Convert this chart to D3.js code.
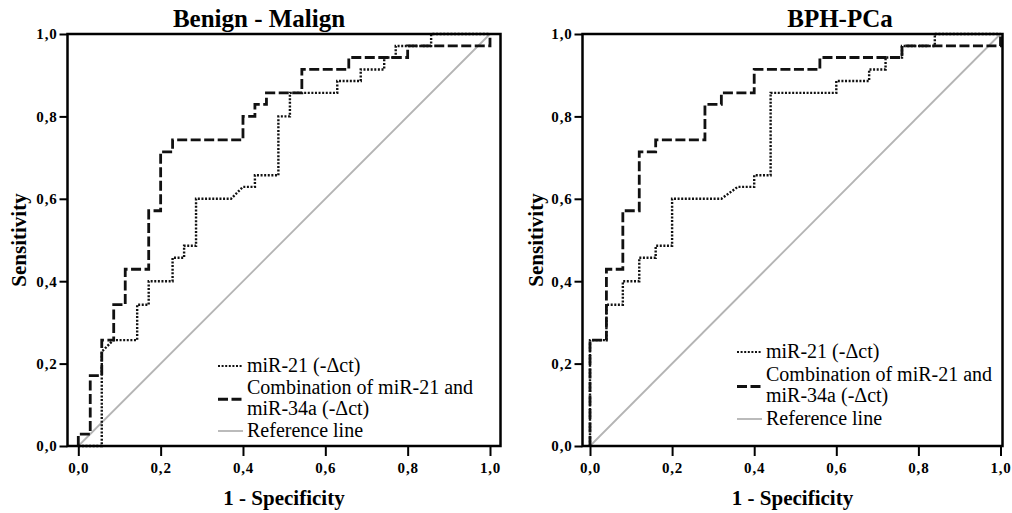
<!DOCTYPE html>
<html>
<head>
<meta charset="utf-8">
<script src="https://cdn.jsdelivr.net/npm/d3@7"></script>
<style>
  body { margin: 0; background: #fff; }
  svg { display: block; }
</style>
</head>
<body>
<div id="chart"></div>
<script>
// ROC curves (x = 1 - specificity, y = sensitivity)
const benignMir21 = [[0,0],[0.057,0],[0.057,0.229],[0.085,0.257],[0.143,0.257],[0.143,0.343],[0.171,0.343],[0.171,0.4],[0.229,0.4],[0.229,0.457],[0.257,0.457],[0.257,0.486],[0.286,0.486],[0.286,0.6],[0.371,0.6],[0.4,0.629],[0.429,0.629],[0.429,0.657],[0.486,0.657],[0.486,0.8],[0.514,0.8],[0.514,0.857],[0.629,0.857],[0.629,0.886],[0.686,0.886],[0.686,0.914],[0.743,0.914],[0.743,0.943],[0.771,0.943],[0.771,0.971],[0.857,0.971],[0.857,1],[1,1]];
const benignCombo = [[0,0],[0,0.029],[0.029,0.029],[0.029,0.171],[0.057,0.171],[0.057,0.257],[0.086,0.257],[0.086,0.343],[0.114,0.343],[0.114,0.429],[0.171,0.429],[0.171,0.571],[0.2,0.571],[0.2,0.714],[0.229,0.714],[0.229,0.743],[0.4,0.743],[0.4,0.8],[0.429,0.8],[0.429,0.829],[0.457,0.829],[0.457,0.857],[0.543,0.857],[0.543,0.914],[0.657,0.914],[0.657,0.943],[0.8,0.943],[0.8,0.971],[1,0.971],[1,1]];
const bphMir21 = [[0,0],[0,0.257],[0.04,0.257],[0.04,0.343],[0.08,0.343],[0.08,0.4],[0.12,0.4],[0.12,0.457],[0.16,0.457],[0.16,0.486],[0.2,0.486],[0.2,0.6],[0.32,0.6],[0.36,0.629],[0.4,0.629],[0.4,0.657],[0.44,0.657],[0.44,0.857],[0.6,0.857],[0.6,0.886],[0.68,0.886],[0.68,0.914],[0.72,0.914],[0.72,0.943],[0.76,0.943],[0.76,0.971],[0.84,0.971],[0.84,1],[1,1]];
const bphCombo = [[0,0],[0,0.257],[0.04,0.257],[0.04,0.429],[0.08,0.429],[0.08,0.571],[0.12,0.571],[0.12,0.714],[0.16,0.714],[0.16,0.743],[0.28,0.743],[0.28,0.829],[0.32,0.829],[0.32,0.857],[0.4,0.857],[0.4,0.914],[0.56,0.914],[0.56,0.943],[0.76,0.943],[0.76,0.971],[1,0.971],[1,1]];
const referenceLine = [[0,0],[1,1]];

const titles = ["Benign - Malign", "BPH-PCa"];
const tickValues = [0, 0.2, 0.4, 0.6, 0.8, 1.0];
const legendLabels = ["miR-21 (-\u0394ct)", "Combination of miR-21 and", "miR-34a (-\u0394ct)", "Reference line"];

const width = 1012;
const height = 513;
const serif = "'Liberation Serif', 'Times New Roman', serif";

const svg = d3.select("#chart")
  .append("svg")
  .attr("width", width)
  .attr("height", height);

// each panel: frame box, where 0 and 1 sit on x, legend spot, title center
const panels = [
  { title: titles[0], frame: [67.5, 34, 500.5, 446], x0: 78.3, x1: 490, titleX: 259,
    yLabelX: 19, legend: { x: 218, rows: [366, 388, 408.5, 431] },
    mir21: benignMir21, combo: benignCombo },
  { title: titles[1], frame: [582.5, 34, 1002.5, 446], x0: 590, x1: 1000.5, titleX: 840,
    yLabelX: 536, legend: { x: 737, rows: [352, 375, 396, 419] },
    mir21: bphMir21, combo: bphCombo }
];

const fmt = d => d3.format(".1f")(d).replace(".", ",");

panels.forEach(p => {
  const [fx0, fy0, fx1, fy1] = p.frame;
  const x = d3.scaleLinear().domain([0, 1]).range([p.x0, p.x1]);
  const y = d3.scaleLinear().domain([0, 1]).range([fy1, fy0]);
  const g = svg.append("g");

  // reference diagonal
  const line = d3.line().x(d => x(d[0])).y(d => y(d[1]));
  g.append("path")
    .attr("d", line(referenceLine))
    .attr("fill", "none")
    .attr("stroke", "#b4b4b4")
    .attr("stroke-width", 1.8);

  g.append("path")
    .attr("d", line(p.mir21))
    .attr("fill", "none")
    .attr("stroke", "#111")
    .attr("stroke-width", 2.4)
    .attr("stroke-dasharray", "2,1.6");

  g.append("path")
    .attr("d", line(p.combo))
    .attr("fill", "none")
    .attr("stroke", "#111")
    .attr("stroke-width", 2.8)
    .attr("stroke-dasharray", "10,3.5");

  // frame
  g.append("rect")
    .attr("x", fx0).attr("y", fy0)
    .attr("width", fx1 - fx0).attr("height", fy1 - fy0)
    .attr("fill", "none")
    .attr("stroke", "#000")
    .attr("stroke-width", 2.5);

  // axes
  const xAxis = g.append("g")
    .attr("transform", `translate(0,${fy1})`)
    .call(d3.axisBottom(x).tickValues(tickValues).tickSize(10).tickPadding(6).tickFormat(fmt));
  const yAxis = g.append("g")
    .attr("transform", `translate(${fx0},0)`)
    .call(d3.axisLeft(y).tickValues(tickValues).tickSize(8).tickPadding(2).tickFormat(fmt));
  [xAxis, yAxis].forEach(a => {
    a.select(".domain").remove();
    a.selectAll(".tick line").attr("stroke", "#000").attr("stroke-width", 2);
    a.selectAll(".tick text")
      .attr("fill", "#000")
      .style("font-family", serif)
      .style("font-weight", "bold")
      .style("font-size", "15px")
      .style("letter-spacing", "0.8px");
  });

  // titles and axis labels
  g.append("text")
    .attr("x", p.titleX).attr("y", 27)
    .attr("text-anchor", "middle")
    .style("font-family", serif).style("font-weight", "bold").style("font-size", "25px")
    .text(p.title);

  g.append("text")
    .attr("x", (fx0 + fx1) / 2).attr("y", 505)
    .attr("text-anchor", "middle")
    .style("font-family", serif).style("font-weight", "bold").style("font-size", "21px")
    .text("1 - Specificity");

  g.append("text")
    .attr("transform", `translate(${p.yLabelX + 7},${(fy0 + fy1) / 2}) rotate(-90)`)
    .attr("text-anchor", "middle")
    .style("font-family", serif).style("font-weight", "bold").style("font-size", "21px")
    .text("Sensitivity");

  // legend
  const lg = g.append("g");
  const lx = p.legend.x;
  const rows = p.legend.rows;
  lg.append("line")
    .attr("x1", lx).attr("x2", lx + 25).attr("y1", rows[0]).attr("y2", rows[0])
    .attr("stroke", "#111").attr("stroke-width", 2.2).attr("stroke-dasharray", "2,1.6");
  lg.append("line")
    .attr("x1", lx).attr("x2", lx + 25).attr("y1", (rows[1] + rows[2]) / 2 + 1).attr("y2", (rows[1] + rows[2]) / 2 + 1)
    .attr("stroke", "#111").attr("stroke-width", 2.8).attr("stroke-dasharray", "10,3.5");
  lg.append("line")
    .attr("x1", lx).attr("x2", lx + 25).attr("y1", rows[3]).attr("y2", rows[3])
    .attr("stroke", "#b4b4b4").attr("stroke-width", 1.8);
  legendLabels.forEach((t, i) => {
    lg.append("text")
      .attr("x", lx + 29).attr("y", rows[i] + 6)
      .style("font-family", serif).style("font-size", "20px")
      .text(t);
  });
});
</script>
</body>
</html>
